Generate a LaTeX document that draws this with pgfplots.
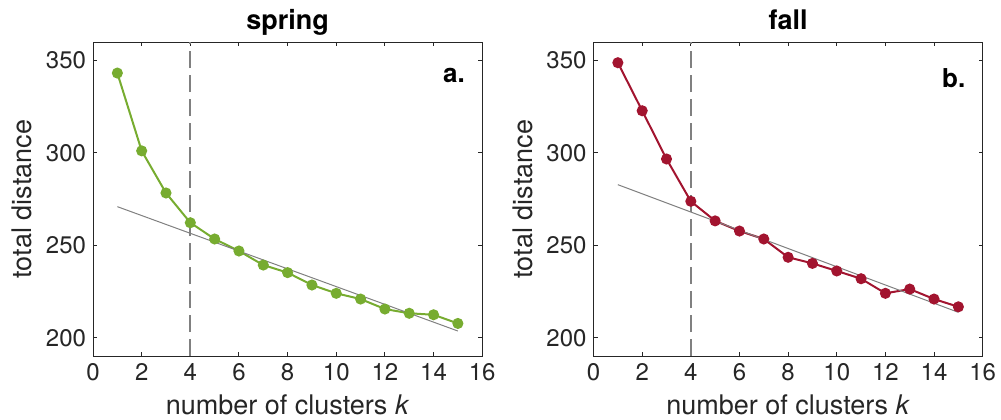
\documentclass[border=0pt]{standalone}
\usepackage{fontspec}
\setmainfont{TeX Gyre Heros}
\usepackage{pgfplots}
\pgfplotsset{compat=1.18}

\definecolor{springgreen}{RGB}{119,172,48}
\definecolor{fallred}{RGB}{162,20,47}
\definecolor{axgray}{RGB}{38,38,38}
\definecolor{fitgray}{RGB}{128,128,128}

% 1 px of the reference = 0.5pt here
\pgfplotsset{
  every axis title shift=0pt,
  kplot/.style={
    scale only axis, width=194.5pt, height=157pt,
    xmin=0, xmax=16, ymin=190, ymax=360,
    xtick={0,2,...,16}, ytick={200,250,300,350},
    tick align=inside, major tick length=2pt,
    axis line style={axgray, line width=0.5pt},
    every tick/.style={axgray, line width=0.5pt},
    ticklabel style={font=\fontsize{12}{14}\selectfont, text=axgray},
    /pgf/number format/assume math mode=true,
    label style={font=\fontsize{13.5}{16}\selectfont, text=axgray},
    title style={font=\fontsize{13.5}{16}\selectfont\bfseries,
      at={(0.5,1)}, anchor=base, yshift=6.5pt, inner sep=0pt},
    xlabel={number of clusters \textit{k}},
    ylabel={total distance},
  },
  elbow/.style={color=fitgray, line width=1pt, dash pattern=on 8.5pt off 3.5pt, forget plot},
  fitline/.style={color=fitgray, line width=0.5pt, forget plot},
  series/.style={color=#1, line width=1pt, mark=*, mark size=2.25pt,
    mark options={fill=#1, draw=#1}},
}

\begin{document}
\begin{tikzpicture}
\begin{axis}[kplot, at={(0,0)}, anchor=south west, title={spring}]
\addplot[elbow] coordinates {(4,190) (4,360)};
\addplot[series=springgreen] coordinates {
  (1,343.2) (2,301.1) (3,278.3) (4,262.2) (5,253.4)
  (6,246.9) (7,239.3) (8,235.2) (9,228.5) (10,224.0)
  (11,220.9) (12,215.5) (13,213.2) (14,212.4) (15,207.7)
};
\addplot[fitline] coordinates {(1,270.9) (15,203.6)};
\node[anchor=north east, inner sep=0pt, font=\fontsize{13}{15}\selectfont\bfseries,
  xshift=-8.5pt, yshift=-13pt] at (rel axis cs:1,1) {a.};
\end{axis}

\begin{axis}[kplot, at={(250.15pt,0)}, anchor=south west, title={fall}]
\addplot[elbow] coordinates {(4,190) (4,360)};
\addplot[series=fallred] coordinates {
  (1,348.8) (2,322.8) (3,296.7) (4,273.8) (5,263.2)
  (6,257.7) (7,253.4) (8,243.5) (9,240.2) (10,236.1)
  (11,231.9) (12,224.0) (13,226.3) (14,220.9) (15,216.7)
};
\addplot[fitline] coordinates {(1,282.8) (15,213.7)};
\node[anchor=north east, inner sep=0pt, font=\fontsize{13}{15}\selectfont\bfseries,
  xshift=-8.5pt, yshift=-13pt] at (rel axis cs:1,1) {b.};
\end{axis}

\pgfresetboundingbox
\path (-46.5pt,-31.5pt) rectangle (453.8pt,178pt);
\end{tikzpicture}
\end{document}
